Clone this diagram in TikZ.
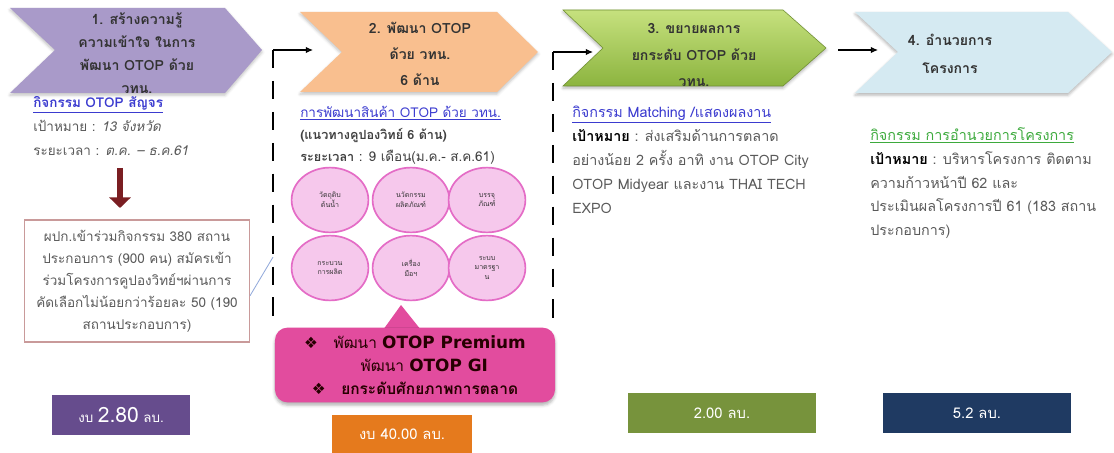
\documentclass[tikz,border=0pt]{standalone}
\usepackage{fontspec}
\setmainfont[Script=Thai]{Loma}
\newfontfamily\symfont{DejaVu Sans}
\usetikzlibrary{arrows,arrows.meta,calc,positioning,shapes.geometric,shadows.blur}

\definecolor{chevpurple}{HTML}{A99AC9}
\definecolor{chevorange}{HTML}{F9BF8F}
\definecolor{chevgreenA}{HTML}{C6E17E}
\definecolor{chevgreenB}{HTML}{8CB43F}
\definecolor{chevblue}{HTML}{D5EAF2}
\definecolor{bodygray}{HTML}{5A5A5A}
\definecolor{linkblue}{HTML}{3B3BCF}
\definecolor{linkgreen}{HTML}{3DAA3D}
\definecolor{boxrose}{HTML}{C99A9A}
\definecolor{bubblefill}{HTML}{F6C8EC}
\definecolor{bubbleline}{HTML}{E46CC6}
\definecolor{calloutpink}{HTML}{E24C9E}
\definecolor{darkred}{HTML}{7A1E22}
\definecolor{thinblue}{HTML}{93AADB}
\definecolor{budpurple}{HTML}{664C8D}
\definecolor{budorange}{HTML}{E57A1D}
\definecolor{budgreen}{HTML}{77933C}
\definecolor{budnavy}{HTML}{1F3A62}

\tikzset{
	stagetext/.style={align=center, text=black!80, inner sep=0pt,
			font=\bfseries\fontsize{10}{#1}\selectfont},
	bodytext/.style={anchor=north west, align=left, inner sep=0pt, text=bodygray,
			font=\fontsize{9.6}{17.2}\selectfont},
	bubble/.style={ellipse, draw=bubbleline, line width=1.2pt, fill=bubblefill,
			minimum width=1.92cm, minimum height=1.62cm, align=center, inner sep=0pt,
			font=\fontsize{5}{7}\selectfont, text=black!80},
	budget/.style={fill=#1, text=white, inner sep=0pt, minimum height=0.98cm},
	bracket/.style={line width=2pt, dash pattern=on 13pt off 9pt},
	flow/.style={-{Latex[length=5pt, width=4.5pt]}, line width=0.8pt}
}

\begin{document}
\begin{tikzpicture}[x=0.025cm, y=-0.025cm]
	\useasboundingbox (0,0) rectangle (1114,453);

	% chevrons
	\fill[chevpurple, blur shadow={shadow xshift=0pt, shadow yshift=-1.5pt, shadow opacity=25}]
		(10,8) -- (225,8) -- (262,50) -- (225,93) -- (10,93) -- (55,50) -- cycle;
	\fill[chevorange, blur shadow={shadow xshift=0pt, shadow yshift=-1.5pt, shadow opacity=25}]
		(300,12) -- (497,12) -- (538,52) -- (497,92) -- (300,92) -- (342,52) -- cycle;
	\shade[top color=chevgreenA, bottom color=chevgreenB, draw=chevgreenB!80!black,
		blur shadow={shadow xshift=0pt, shadow yshift=-1.5pt, shadow opacity=30}]
		(563,10) -- (783,10) -- (826,48) -- (783,86) -- (563,86) -- (603,48) -- cycle;
	\fill[chevblue, blur shadow={shadow xshift=0pt, shadow yshift=-1.5pt, shadow opacity=30}]
		(855,12) -- (1068,12) -- (1112,52) -- (1068,93) -- (855,93) -- (898,52) -- cycle;

	\node[stagetext=16.2] (st1) at (137,53) {1. สร้างความรู้\\ความเข้าใจ ในการ\\พัฒนา OTOP ด้วย\\วทน.};
	\node[stagetext=18.5] (st2) at (420,54) {2. พัฒนา OTOP\\ด้วย วทน.\\6 ด้าน};
	\node[stagetext=19] (st3) at (694,55) {3. ขยายผลการ\\ยกระดับ OTOP ด้วย\\วทน.};
	\node[stagetext=19.5] (st4) at (950,54) {4. อำนวยการ\\โครงการ};

	% connectors between stages
	\coordinate (brA) at (273,50);
	\coordinate (brAend) at (273,328);
	\coordinate (inB) at (313,50);
	\coordinate (brB) at (553,52);
	\coordinate (brBend) at (553,328);
	\coordinate (inC) at (593,52);
	\coordinate (outC) at (838,50);
	\coordinate (inD) at (878,50);
	\draw[bracket] (brA) -- (brAend);
	\draw[bracket] (brB) -- (brBend);
	\draw[flow] (brA) -- (inB);
	\draw[flow] (brB) -- (inC);
	\draw[flow] (outC) -- (inD);

	% stage 1
	\node[bodytext] (act1) at (33,96) {{\color{linkblue}\underline{\bfseries กิจกรรม OTOP สัญจร}}\\
		เป้าหมาย : \textit{13 จังหวัด}\\
		ระยะเวลา : \textit{ต.ค. – ธ.ค.61}};
	\coordinate (dnA) at (120,168);
	\coordinate (dnB) at (120,208);
	\draw[darkred, line width=4pt, -{Triangle[length=7.5pt, width=15pt]}] (dnA) -- (dnB);
	\node[draw=boxrose, line width=0.8pt, minimum width=5.62cm, minimum height=3.05cm,
		align=center, inner sep=0pt, text=bodygray, font=\fontsize{9.6}{15.6}\selectfont]
		(result1) at (137,281) {ผปก.เข้าร่วมกิจกรรม 380 สถาน\\ประกอบการ (900 คน) สมัครเข้า\\ร่วมโครงการคูปองวิทย์ฯผ่านการ\\คัดเลือกไม่น้อยกว่าร้อยละ 50 (190\\สถานประกอบการ)};
	\draw[thinblue, line width=0.6pt] ($(result1.north east)!0.62!(result1.south east)$) -- ($(brA)!0.745!(brAend)$);
	\node[budget=budpurple, minimum width=3.45cm] (bud1) at (121,415)
		{\fontsize{9.5}{10}\selectfont งบ {\fontsize{15}{15}\selectfont 2.80} ลบ.};

	% stage 2
	\node[bodytext, text=black!75, font=\fontsize{9.6}{15.6}\selectfont] (act2) at (300,106) {{\color{linkblue}\underline{การพัฒนาสินค้า OTOP ด้วย วทน.}}\\
		{\bfseries\fontsize{9}{10}\selectfont (แนวทางคูปองวิทย์ 6 ด้าน)}\\
		{\bfseries\fontsize{9}{10}\selectfont ระยะเวลา} : 9 เดือน(ม.ค.- ส.ค.61)};
	\node[bubble] (raw) at (330,200) {วัตถุดิบ\\ต้นน้ำ};
	\node[bubble] (innov) at (411,200) {นวัตกรรม\\ผลิตภัณฑ์};
	\node[bubble] (pack) at (487,200) {บรรจุ\\ภัณฑ์};
	\node[bubble] (proc) at (330,268) {กระบวน\\การผลิต};
	\node[bubble] (tool) at (411,268) {เครื่อง\\มือฯ};
	\node[bubble] (std) at (487,268) {ระบบ\\มาตรฐา\\น};
	\fill[calloutpink] (383,330) -- (401,305) -- (421,330) -- cycle;
	\node[fill=calloutpink, rounded corners=9pt, minimum width=7cm, minimum height=1.87cm,
		align=center, inner sep=0pt, text=black!85!red,
		font=\fontsize{11}{16.4}\selectfont,
		blur shadow={shadow xshift=0pt, shadow yshift=-2pt, shadow opacity=30}]
		(premium) at (415,365)
		{{\symfont ❖}\quad พัฒนา {\symfont\bfseries\fontsize{12}{16}\selectfont OTOP Premium}\\
		\hspace*{1.2em}พัฒนา {\symfont\bfseries\fontsize{12}{16}\selectfont OTOP GI}\\
		{\symfont ❖}\quad{\bfseries ยกระดับศักยภาพการตลาด}};
	\node[budget=budorange, minimum width=3.48cm, minimum height=0.95cm] (bud2) at (402,434)
		{\fontsize{10.5}{11}\selectfont งบ 40.00 ลบ.};

	% stage 3
	\node[bodytext, font=\fontsize{10.2}{17}\selectfont] (act3) at (572,106) {{\color{linkblue}\underline{กิจกรรม Matching /แสดงผลงาน}}\\
		{\bfseries\color{black} เป้าหมาย} : ส่งเสริมด้านการตลาด\\
		อย่างน้อย 2 ครั้ง อาทิ งาน OTOP City\\
		OTOP Midyear และงาน THAI TECH\\
		EXPO};
	\node[budget=budgreen, minimum width=4.72cm] (bud3) at (722,413)
		{\fontsize{10.5}{11}\selectfont 2.00 ลบ.};

	% stage 4
	\node[bodytext, font=\fontsize{10.2}{17}\selectfont] (act4) at (870,127) {{\color{linkgreen}\underline{กิจกรรม การอำนวยการโครงการ}}\\
		{\bfseries\color{black} เป้าหมาย} : บริหารโครงการ ติดตาม\\
		ความก้าวหน้าปี 62 และ\\
		ประเมินผลโครงการปี 61 (183 สถาน\\
		ประกอบการ)};
	\node[budget=budnavy, minimum width=4.72cm] (bud4) at (977,413)
		{\fontsize{10.5}{11}\selectfont 5.2 ลบ.};
\end{tikzpicture}
\end{document}
